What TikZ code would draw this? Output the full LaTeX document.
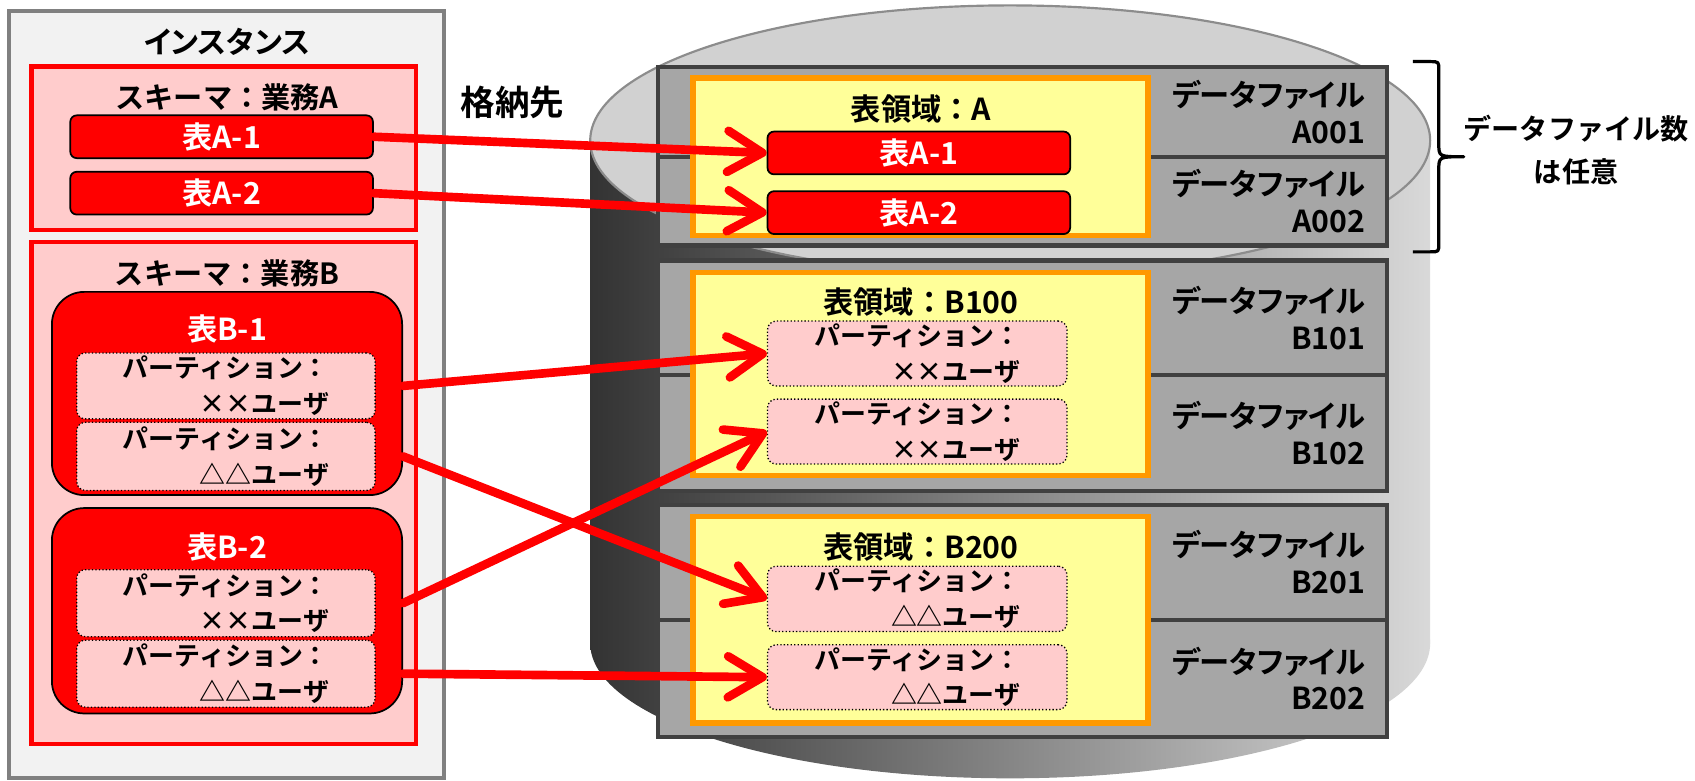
\documentclass[tikz,border=0pt]{standalone}
\usepackage{fontspec}
\usepackage{tikz}
\usetikzlibrary{arrows.meta, positioning}
\newfontfamily\jp{Noto Sans CJK JP}[BoldFont={* Bold}]
\newfontfamily\jpp{Noto Sans CJK JP}[BoldFont={* Bold}, RawFeature=+palt]
\definecolor{instgray}{HTML}{F2F2F2}
\definecolor{pinkfill}{HTML}{FFCCCC}
\definecolor{tsyellow}{HTML}{FFFF99}
\definecolor{tsorange}{HTML}{FF9900}
\definecolor{dfgray}{HTML}{A6A6A6}
\definecolor{dfedge}{HTML}{404040}
\tikzstyle{instance} = [rectangle, draw=gray, fill=instgray, line width=2pt]
\tikzstyle{schema} = [rectangle, draw=red, fill=pinkfill, line width=2pt]
\tikzstyle{tablebox} = [rectangle, rounded corners=3pt, draw=black, fill=red, line width=0.8pt, text=white, font=\jp\bfseries\fontsize{14}{16}\selectfont]
\tikzstyle{bigtable} = [rectangle, rounded corners=15pt, draw=black, fill=red, line width=0.8pt]
\tikzstyle{partition} = [rectangle, rounded corners=4pt, draw=black, densely dotted, fill=pinkfill, line width=0.6pt, align=right, inner ysep=0.5pt, font=\jp\bfseries\fontsize{12}{16.5}\selectfont]
\tikzstyle{tablespace} = [rectangle, draw=tsorange, fill=tsyellow, line width=2.5pt]
\tikzstyle{datafile} = [rectangle, draw=dfedge, fill=dfgray, line width=2pt, outer sep=0pt, align=right, inner xsep=10pt, inner ysep=1pt, text width=317pt, font=\jpp\bfseries\fontsize{14}{17}\selectfont]
\tikzstyle{title} = [font=\jp\bfseries\fontsize{13.5}{16}\selectfont]
\tikzstyle{tstitle} = [font=\jp\bfseries\fontsize{14}{16}\selectfont]
\tikzstyle{store} = [draw=red, line width=4pt, line cap=round, -{Straight Barb[length=16pt, width=19pt, line width=4pt, round]}]

\begin{document}
\begin{tikzpicture}[x=0.5pt, y=-0.5pt]
\useasboundingbox (0,0) rectangle (1568,722);

\shade[left color=black!80, right color=black!15] (546,130) rectangle (1323,595);
\shade[left color=black!80, right color=black!15] (934.5,595) ellipse [x radius=388.5, y radius=125];
\filldraw[fill=black!18, draw=black!45, line width=1pt] (934.5,130) ellipse [x radius=388.5, y radius=125];

\node (inst) [instance, minimum width=201pt, minimum height=355pt] at (209.5,365) {};
\node (instT) [title, font=\jpp\bfseries\fontsize{14}{16}\selectfont] at (210,39) {インスタンス};

\node (schA) [schema, minimum width=178pt, minimum height=75.5pt] at (207,137) {};
\node (schAT) [title] at (210,90) {スキーマ：業務A};
\node (tA1) [tablebox, minimum width=140pt, minimum height=19pt] at (205,126.5) {表A-1};
\node (tA2) [tablebox, minimum width=140pt, minimum height=19pt, below=5.5pt of tA1] {表A-2};

\node (schB) [schema, minimum width=178pt, minimum height=232pt] at (207,456) {};
\node (schBT) [title] at (210,253) {スキーマ：業務B};
\node (tB1) [bigtable, minimum width=162pt, minimum height=94pt] at (210,364) {};
\node (tB1T) [tablebox, draw=none] at (210,304) {表B-1};
\node (pB1a) [partition, minimum width=138pt, minimum height=30.5pt] at (209,357) {パーティション：\\××ユーザ};
\node (pB1b) [partition, minimum width=138pt, minimum height=31.5pt, below=1pt of pB1a] {パーティション：\\△△ユーザ};
\node (tB2) [bigtable, minimum width=162pt, minimum height=95pt] at (210,565) {};
\node (tB2T) [tablebox, draw=none] at (210,506) {表B-2};
\node (pB2a) [partition, minimum width=138pt, minimum height=31pt] at (209,558) {パーティション：\\××ユーザ};
\node (pB2b) [partition, minimum width=138pt, minimum height=31pt, below=1pt of pB2a] {パーティション：\\△△ユーザ};

\node (dest) [title, font=\jp\bfseries\fontsize{16}{18}\selectfont] at (474,95) {格納先};

\node (dA1) [datafile, minimum height=41.5pt] at (946,103.5) {データファイル\\A001};
\node (dA2) [datafile, minimum height=41pt, below=0pt of dA1] {データファイル\\A002};
\node (dB1) [datafile, minimum height=53pt] at (946,294) {データファイル\\B101};
\node (dB2) [datafile, minimum height=53.5pt, below=0pt of dB1] {データファイル\\B102};
\node (dB3) [datafile, minimum height=53.25pt] at (946,520.25) {データファイル\\B201};
\node (dB4) [datafile, minimum height=54.25pt, below=0pt of dB3] {データファイル\\B202};

\node (tsA) [tablespace, minimum width=210.5pt, minimum height=73pt] at (851.5,145) {};
\node (tsAT) [tstitle] at (852,101) {表領域：A};
\node (sA1) [tablebox, minimum width=140pt, minimum height=18.5pt] at (850,141.5) {表A-1};
\node (sA2) [tablebox, minimum width=140pt, minimum height=18pt, below=7pt of sA1] {表A-2};

\node (tsB1) [tablespace, minimum width=210.5pt, minimum height=94pt] at (851.5,346) {};
\node (tsB1T) [tstitle] at (852,279) {表領域：B100};
\node (sB1a) [partition, minimum width=138.5pt, minimum height=30pt] at (848.5,327) {パーティション：\\××ユーザ};
\node (sB1b) [partition, minimum width=138.5pt, minimum height=30pt, below=5.5pt of sB1a] {パーティション：\\××ユーザ};

\node (tsB2) [tablespace, minimum width=210.5pt, minimum height=95.5pt] at (851.5,573.5) {};
\node (tsB2T) [tstitle] at (852,506) {表領域：B200};
\node (sB2a) [partition, minimum width=138.5pt, minimum height=30.25pt] at (848.5,554) {パーティション：\\△△ユーザ};
\node (sB2b) [partition, minimum width=138.5pt, minimum height=30pt, below=5.5pt of sB2a] {パーティション：\\△△ユーザ};

\coordinate (braceT) at (1307,57);
\coordinate (braceB) at (1307,233);
\draw[line width=1.5pt, line join=round] (braceT) -- (1323,57) .. controls (1331,57) .. (1331,65) -- (1331,133) .. controls (1331,145) .. (1354,145) .. controls (1331,145) .. (1331,157) -- (1331,225) .. controls (1331,233) .. (1323,233) -- (braceB);
\node (count) [align=center, font=\jp\bfseries\fontsize{13}{20}\selectfont] at (1458,139) {データファイル数\\は任意};

\draw[store] (tA1.east) -- (sA1.west);
\draw[store] (tA2.east) -- (sA2.west);
\draw[store] (pB1a.east -| tB1.east) -- (sB1a.west);
\draw[store] (pB1b.east -| tB1.east) -- (sB2a.west);
\draw[store] (pB2a.east -| tB2.east) -- (sB1b.west);
\draw[store] (pB2b.east -| tB2.east) -- (sB2b.west);
\end{tikzpicture}
\end{document}
